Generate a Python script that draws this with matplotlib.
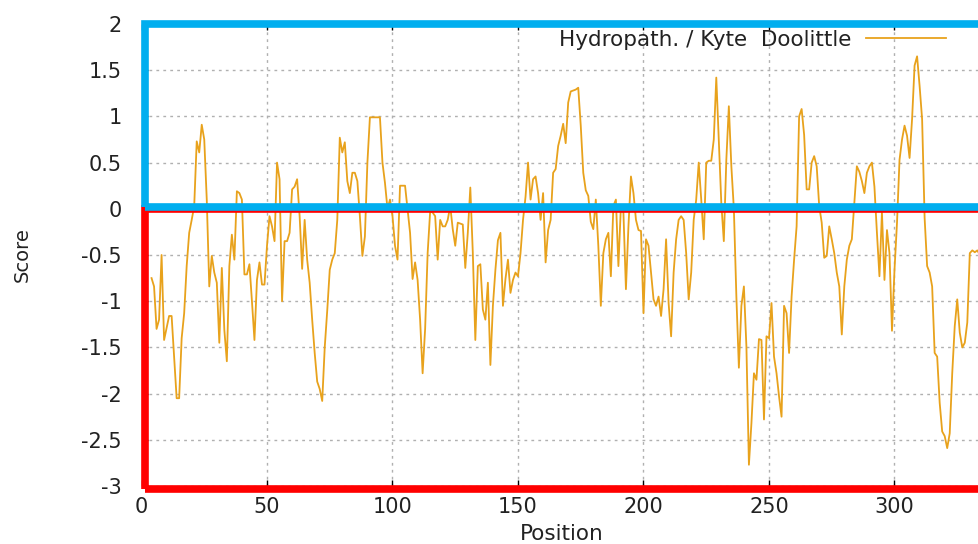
import numpy as np
import matplotlib
matplotlib.use("Agg")
from matplotlib import pyplot as plt
from matplotlib.patches import Rectangle

# Kyte-Doolittle hydropathy scores, one per residue starting at position 4
scores = [
    -0.75, -0.84, -1.30, -1.20, -0.50, -1.42, -1.29, -1.16, -1.16, -1.60,
    -2.05, -2.05, -1.40, -1.13, -0.62, -0.26, -0.12, 0.03, 0.73, 0.61,
    0.91, 0.75, 0.10, -0.84, -0.51, -0.69, -0.80, -1.45, -0.64, -1.31,
    -1.65, -0.62, -0.28, -0.55, 0.19, 0.17, 0.10, -0.71, -0.71, -0.60,
    -1.00, -1.42, -0.77, -0.58, -0.82, -0.82, -0.40, -0.08, -0.19, -0.35,
    0.50, 0.32, -1.00, -0.35, -0.35, -0.26, 0.21, 0.24, 0.32, -0.08,
    -0.65, -0.12, -0.55, -0.80, -1.20, -1.56, -1.87, -1.95, -2.08, -1.50,
    -1.10, -0.66, -0.55, -0.48, -0.12, 0.77, 0.61, 0.72, 0.30, 0.17,
    0.39, 0.39, 0.30, -0.08, -0.51, -0.30, 0.50, 0.99, 0.99, 0.99,
    0.99, 0.99, 0.50, 0.28, 0.00, 0.10, -0.08, -0.40, -0.55, 0.25,
    0.25, 0.25, 0.00, -0.26, -0.76, -0.58, -0.77, -1.20, -1.78, -1.30,
    -0.48, -0.03, -0.04, -0.08, -0.55, -0.12, -0.19, -0.19, -0.12, 0.03,
    -0.22, -0.40, -0.15, -0.16, -0.17, -0.64, -0.26, 0.23, -0.48, -1.42,
    -0.62, -0.60, -1.09, -1.20, -0.80, -1.69, -1.05, -0.66, -0.34, -0.26,
    -1.05, -0.76, -0.55, -0.91, -0.77, -0.69, -0.73, -0.48, -0.12, 0.13,
    0.50, 0.10, 0.32, 0.35, 0.17, -0.12, 0.17, -0.58, -0.23, -0.12,
    0.39, 0.43, 0.68, 0.79, 0.92, 0.71, 1.15, 1.27, 1.28, 1.29,
    1.31, 0.90, 0.39, 0.20, 0.14, -0.14, -0.22, 0.10, -0.40, -1.05,
    -0.48, -0.33, -0.26, -0.73, 0.03, 0.10, -0.62, 0.03, -0.04, -0.87,
    -0.19, 0.35, 0.17, -0.12, -0.23, -0.24, -1.13, -0.33, -0.40, -0.69,
    -0.98, -1.05, -0.95, -1.16, -0.87, -0.33, -1.02, -1.38, -0.69, -0.33,
    -0.12, -0.08, -0.12, -0.48, -0.98, -0.69, -0.12, 0.10, 0.50, 0.10,
    -0.33, 0.50, 0.52, 0.52, 0.75, 1.42, 0.75, 0.06, -0.35, 0.53,
    1.11, 0.46, 0.00, -0.95, -1.72, -1.05, -0.84, -1.49, -2.77, -2.32,
    -1.78, -1.85, -1.41, -1.42, -2.28, -1.38, -1.40, -1.02, -1.60, -1.78,
    -2.03, -2.25, -1.05, -1.13, -1.56, -0.95, -0.55, -0.19, 1.00, 1.08,
    0.80, 0.21, 0.21, 0.50, 0.57, 0.46, 0.03, -0.15, -0.53, -0.51,
    -0.19, -0.33, -0.48, -0.69, -0.84, -1.36, -0.84, -0.55, -0.40, -0.33,
    0.06, 0.46, 0.40, 0.30, 0.17, 0.39, 0.46, 0.50, 0.24, -0.26,
    -0.73, -0.04, -0.77, -0.23, -0.48, -1.32, -0.66, -0.15, 0.53, 0.75,
    0.90, 0.79, 0.55, 0.97, 1.55, 1.65, 1.33, 0.97, -0.10, -0.62,
    -0.69, -0.84, -1.56, -1.60, -2.10, -2.41, -2.46, -2.59, -2.43, -1.78,
    -1.27, -0.98, -1.34, -1.50, -1.45, -1.23, -0.48, -0.45, -0.47, -0.45,
    -0.50,
]
positions = np.arange(4, 4 + len(scores))

x_ticks = [0, 50, 100, 150, 200, 250, 300]
y_ticks = [-3, -2.5, -2, -1.5, -1, -0.5, 0, 0.5, 1, 1.5, 2]
y_labels = ["-3", "-2.5", "-2", "-1.5", "-1", "-0.5", "0", "0.5", "1", "1.5", "2"]

W, H = 979, 544
fig = plt.figure(figsize=(W / 100, H / 100), dpi=100)
# axes run past the right edge of the canvas
ax = fig.add_axes([141.5 / W, 58 / H, 335 * 2.51 / W, 462 / H])
ax.set_xlim(0, 335)
ax.set_ylim(-3, 2)

ax.plot(positions, scores, color="#e8a21c", lw=1.3,
        label="Hydropath. / Kyte  Doolittle", zorder=3)

ax.set_xticks(x_ticks)
ax.set_yticks(y_ticks)
ax.set_yticklabels(y_labels)
ax.grid(True, color="#b0b0b0", linestyle=(0, (2, 3)), lw=1)
ax.tick_params(direction="in", top=True, right=False, length=4, width=1,
               labelsize=15, labelcolor="#222222")
ax.tick_params(axis="y", pad=14)
ax.tick_params(axis="x", pad=8)
for s in ax.spines.values():
    s.set_visible(False)

# hydrophilic region (below zero) and hydrophobic region (above zero)
ax.add_patch(Rectangle((1.5, -3.03), 400, 3.03, fill=False, edgecolor="#ff0000",
                       lw=5.5, joinstyle="miter", clip_on=False, zorder=4))
ax.add_patch(Rectangle((1.5, 0.02), 400, 1.98, fill=False, edgecolor="#00aeef",
                       lw=5.5, joinstyle="miter", clip_on=False, zorder=5))

leg = ax.legend(loc="center right", bbox_to_anchor=(946 / W, 1 - 40 / H),
                bbox_transform=fig.transFigure, frameon=False, markerfirst=False,
                borderpad=0, borderaxespad=0, handlelength=3.7, handletextpad=0.7,
                fontsize=15.5)
for t in leg.get_texts():
    t.set_color("#222222")

fig.text(22 / W, 1 - 255 / H, "Score", rotation=90, ha="center", va="center",
         fontsize=14, color="#222222")
fig.text(562 / W, 1 - 534 / H, "Position", ha="center", va="center",
         fontsize=15.5, color="#222222")

fig.savefig("out.png", dpi=100)
